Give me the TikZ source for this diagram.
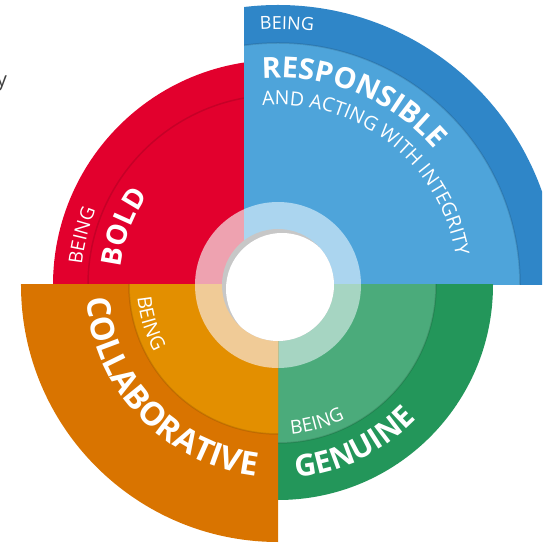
\documentclass[tikz,border=0pt]{standalone}
\usepackage{fontspec}
\setmainfont{Open Sans}
\usetikzlibrary{decorations.text}

\definecolor{boldred}{HTML}{E2002D}
\definecolor{boldpale}{HTML}{EEA2B0}
\definecolor{respdark}{HTML}{2F86C8}
\definecolor{resplight}{HTML}{4EA4DA}
\definecolor{resppale}{HTML}{ABD5EF}
\definecolor{gendark}{HTML}{23965A}
\definecolor{genmid}{HTML}{4BAB7B}
\definecolor{genpale}{HTML}{A6D5C2}
\definecolor{coldark}{HTML}{D97400}
\definecolor{colmid}{HTML}{E38F00}
\definecolor{colpale}{HTML}{F0CB97}

\tikzset{
  arctext/.style={decorate, decoration={text along path, text align=left,
      text color=white, text={#1}}},
  bandedge/.style={draw=black, draw opacity=.12, line width=1.5pt},
}

\begin{document}
\begin{tikzpicture}[x=1pt, y=1pt]
    \useasboundingbox (-278,-260) rectangle (264,285);
    \clip (-278,-260) rectangle (264,285);
    \coordinate (hub) at (0,0);
    \node[text=black!75, font=\fontsize{20}{20}\selectfont] (frag) at (-276,201) {y};
    % being bold
    \begin{scope}
      \clip (-300,0) rectangle (-34,300);
      \fill[boldred] (hub) circle (225);
      \draw[bandedge] (hub) circle (190);
      \fill[boldpale] (hub) circle (83);
    \end{scope}
    % being responsible
    \begin{scope}
      \clip (-34,0) rectangle (300,300);
      \fill[respdark] (hub) circle (280);
      \fill[resplight] (hub) circle (242);
      \draw[bandedge] (hub) circle (242);
      \fill[resppale] (hub) circle (83);
    \end{scope}
    % being genuine
    \begin{scope}
      \clip (0,0) rectangle (300,-300);
      \fill[gendark] (hub) circle (215);
      \fill[genmid] (hub) circle (158);
      \draw[bandedge] (hub) circle (158);
      \fill[genpale] (hub) circle (83);
    \end{scope}
    % being collaborative
    \begin{scope}
      \clip (0,0) rectangle (-300,-300);
      \fill[coldark] (hub) circle (257);
      \fill[colmid] (hub) circle (149);
      \draw[bandedge] (hub) circle (149);
      \fill[colpale] (hub) circle (83);
    \end{scope}
    % hole
    \begin{scope}
      \clip (hub) circle (56);
      \fill[black!22] (hub) circle (56);
      \fill[white] (4,-4) circle (56);
    \end{scope}
    % words
    \path[arctext={|\fontsize{18}{18}\selectfont|BEING}]
      (94:256) arc[start angle=94, end angle=50, radius=256];
    \path[arctext={|\fontsize{29}{29}\selectfont\bfseries|RESPONSIBLE}]
      (94.4:207) arc[start angle=94.4, end angle=0, radius=207];
    \path[arctext={|\fontsize{19.5}{19.5}\selectfont|AND ACTING WITH INTEGRITY}]
      (95:180) arc[start angle=95, end angle=-20, radius=180];
    \path[arctext={|\fontsize{19}{19}\selectfont|BEING}]
      (174:197) arc[start angle=174, end angle=120, radius=197];
    \path[arctext={|\fontsize{28}{28}\selectfont\bfseries|BOLD}]
      (173.5:158) arc[start angle=173.5, end angle=100, radius=158];
    \path[arctext={|\fontsize{19.5}{19.5}\selectfont|BEING}]
      (185:141) arc[start angle=185, end angle=240, radius=141];
    \path[arctext={|\fontsize{32.5}{32.5}\selectfont\bfseries|COLLABORATIVE}]
      (184:192) arc[start angle=184, end angle=300, radius=192];
    \path[arctext={|\fontsize{19}{19}\selectfont|BEING}]
      (275:150) arc[start angle=275, end angle=330, radius=150];
    \path[arctext={|\fontsize{30}{30}\selectfont\bfseries|GENUINE}]
      (275.4:193) arc[start angle=275.4, end angle=360, radius=193];
\end{tikzpicture}
\end{document}
